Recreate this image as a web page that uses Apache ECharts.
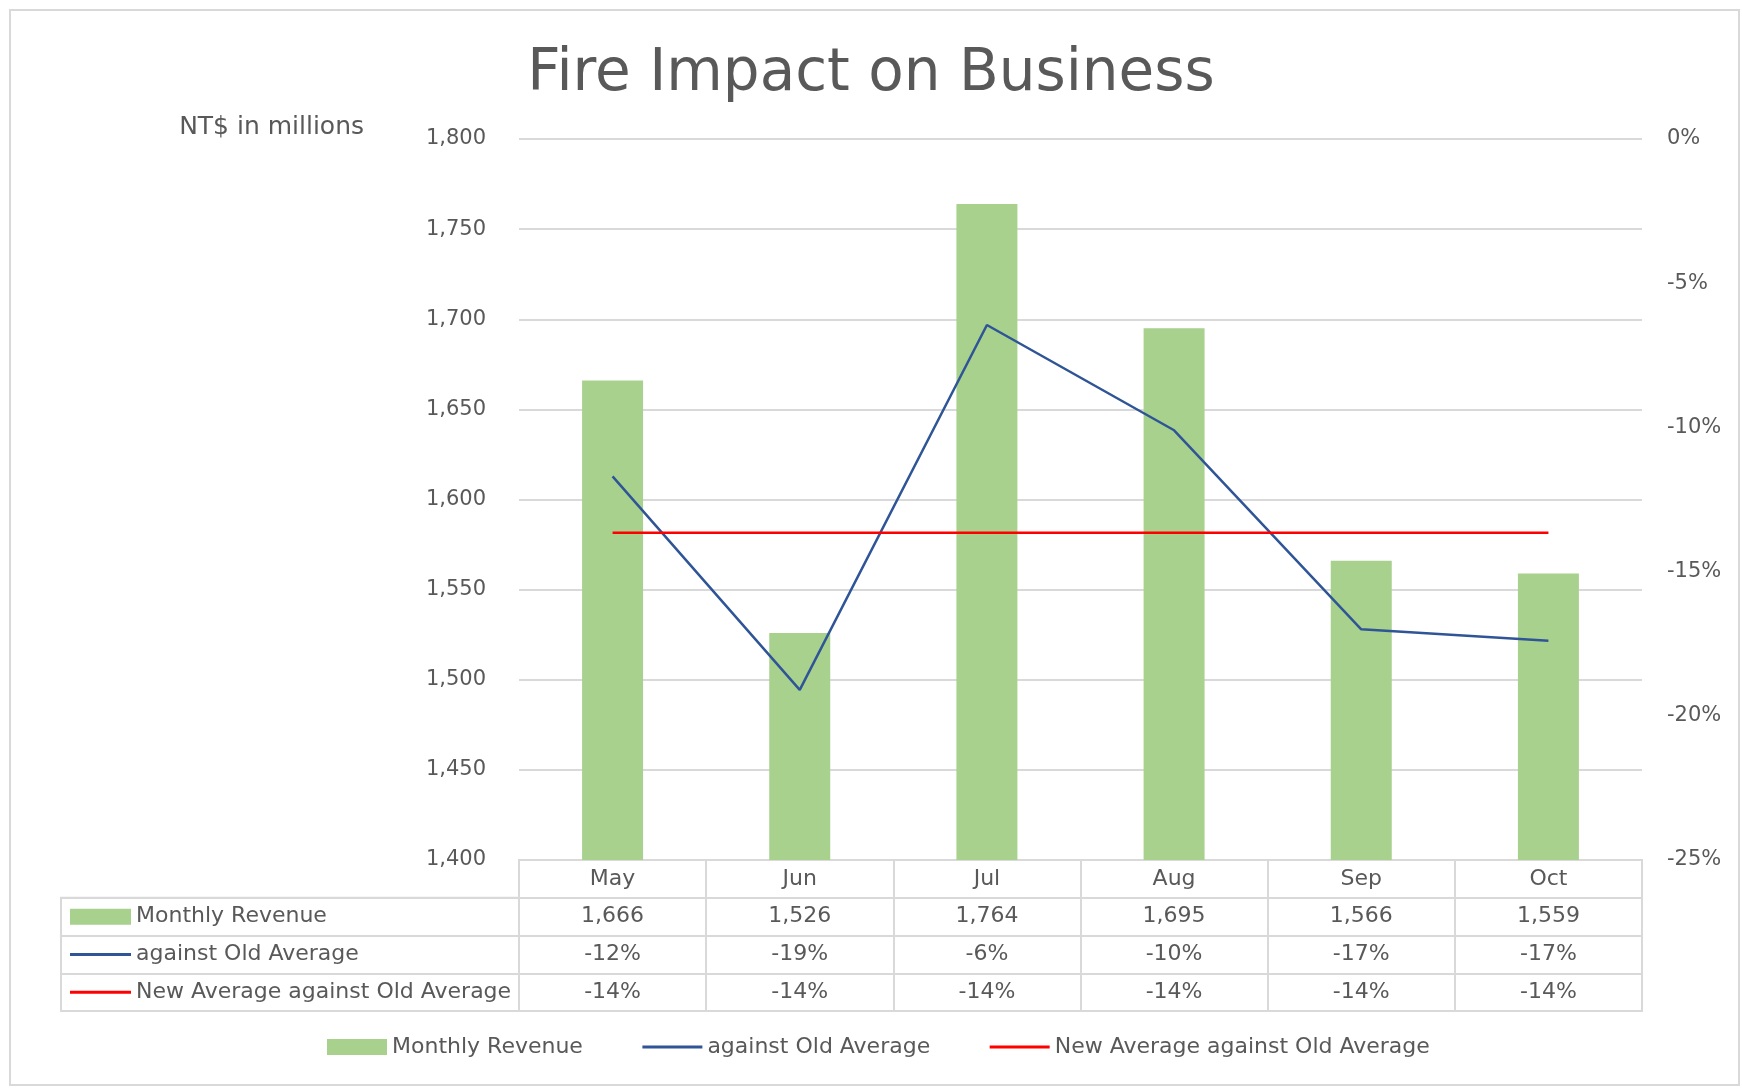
<!DOCTYPE html>
<html><head><meta charset="utf-8">
<script src="https://cdn.jsdelivr.net/npm/echarts@6/dist/echarts.min.js"></script>
<style>html,body{margin:0;padding:0;background:#fff}#c{width:1742px;height:1088px}</style>
</head><body><div id="c"></div>
<script>
// ---- data ----
const months = ['May', 'Jun', 'Jul', 'Aug', 'Sep', 'Oct'];
const monthlyRevenue = [1666, 1526, 1764, 1695, 1566, 1559];
const againstOldAverage = [-0.117, -0.191, -0.0645, -0.101, -0.170, -0.174];
const newAverageAgainstOld = [-0.1365, -0.1365, -0.1365, -0.1365, -0.1365, -0.1365];
const seriesNames = ['Monthly Revenue', 'against Old Average', 'New Average against Old Average'];
const leftAxisRange = [1400, 1800, 50];
const rightAxisRange = [-0.25, 0, 0.05];
const titleText = 'Fire Impact on Business';
const leftAxisName = 'NT$ in millions';

// ---- styles ----
const FONT = 'DejaVu Sans';
const TXT = '#595959';
const GRIDC = '#D9D9D9';
const GREEN = '#A9D18E';
const BLUE = '#2F5597';
const RED = '#FF0000';
const CLEAR = 'rgba(0,0,0,0)';

const fmtNum = v => Math.round(v).toLocaleString('en-US');
const fmtPct = v => Math.round(v * 100) + '%';

// table cells built from the arrays
const cells = [];
months.forEach((m, i) => {
  cells.push({ name: m, value: [i, 0] });
  cells.push({ name: fmtNum(monthlyRevenue[i]), value: [i, 1] });
  cells.push({ name: fmtPct(againstOldAverage[i]), value: [i, 2] });
  cells.push({ name: fmtPct(newAverageAgainstOld[i]), value: [i, 3] });
});

const chart = echarts.init(document.getElementById('c'), null, { renderer: 'canvas' });
chart.setOption({
  backgroundColor: '#fff',
  textStyle: { fontFamily: FONT },
  animation: false,
  title: {
    text: titleText, left: 'center', top: 41,
    textStyle: { fontFamily: FONT, fontSize: 58, fontWeight: 'normal', color: TXT }
  },
  graphic: [{
    type: 'rect', silent: true, z: -1,
    shape: { x: 10, y: 10, width: 1729, height: 1075 },
    style: { fill: 'none', stroke: GRIDC, lineWidth: 2 }
  }],
  legend: {
    data: [
      { name: seriesNames[0], icon: 'rect' },
      { name: seriesNames[1], itemStyle: { color: CLEAR, borderColor: CLEAR, borderWidth: 0 }, lineStyle: { width: 3 } },
      { name: seriesNames[2], itemStyle: { color: CLEAR, borderColor: CLEAR, borderWidth: 0 }, lineStyle: { width: 3 } }
    ],
    left: 322, top: 1031,
    itemWidth: 60, itemHeight: 16, itemGap: 58,
    textStyle: { fontFamily: FONT, fontSize: 22, color: TXT },
    selectedMode: false
  },
  grid: [
    { left: 519, right: 100, top: 139, bottom: 228 },
    { left: 519, right: 100, top: 860, bottom: 77, show: true, borderColor: GRIDC, borderWidth: 2 },
    { left: 61, width: 458, top: 897.75, bottom: 77, show: true, borderColor: GRIDC, borderWidth: 2 }
  ],
  xAxis: [
    { gridIndex: 0, type: 'category', data: months, axisLabel: { show: false }, axisTick: { show: false }, axisLine: { show: false } },
    { gridIndex: 1, type: 'category', data: months, axisLabel: { show: false }, axisTick: { show: false }, axisLine: { show: false },
      splitLine: { show: true, lineStyle: { color: GRIDC, width: 2 } } },
    { gridIndex: 2, type: 'value', min: 0, max: 1, show: false }
  ],
  yAxis: [
    { gridIndex: 0, type: 'value', min: leftAxisRange[0], max: leftAxisRange[1], interval: leftAxisRange[2],
      name: leftAxisName, nameLocation: 'end', nameGap: 12,
      nameTextStyle: { fontFamily: FONT, fontSize: 25, color: TXT, align: 'right', verticalAlign: 'middle', padding: [0, 155, 0, 0] },
      axisLine: { show: false }, axisTick: { show: false },
      axisLabel: { fontFamily: FONT, fontSize: 21, color: TXT, margin: 33, formatter: v => fmtNum(v) },
      splitLine: { lineStyle: { color: GRIDC, width: 2 } } },
    { gridIndex: 0, type: 'value', position: 'right', min: rightAxisRange[0], max: rightAxisRange[1], interval: rightAxisRange[2],
      axisLine: { show: false }, axisTick: { show: false }, splitLine: { show: false },
      axisLabel: { fontFamily: FONT, fontSize: 21, color: TXT, margin: 25, formatter: v => fmtPct(v) } },
    { gridIndex: 1, type: 'category', data: ['h', 'r', 'o', 'n'], inverse: true,
      axisLabel: { show: false }, axisTick: { show: false }, axisLine: { show: false },
      splitLine: { show: true, lineStyle: { color: GRIDC, width: 2 } } },
    { gridIndex: 2, type: 'category', data: seriesNames, inverse: true,
      axisTick: { show: false }, axisLine: { show: false },
      splitLine: { show: true, lineStyle: { color: GRIDC, width: 2 } },
      axisLabel: {
        inside: true, margin: 9,
        formatter: (v, i) => ['{bar|}', '{blue|}', '{red|}'][i] + '{t|' + v + '}',
        rich: {
          bar: { width: 61, height: 16, backgroundColor: GREEN },
          blue: { width: 61, height: 3, backgroundColor: BLUE },
          red: { width: 61, height: 3, backgroundColor: RED },
          t: { fontFamily: FONT, fontSize: 22, color: TXT, padding: [0, 0, 0, 5] }
        }
      } }
  ],
  series: [
    { name: seriesNames[0], type: 'bar', xAxisIndex: 0, yAxisIndex: 0, data: monthlyRevenue,
      barWidth: 61, itemStyle: { color: GREEN }, silent: true },
    { name: seriesNames[1], type: 'line', xAxisIndex: 0, yAxisIndex: 1, data: againstOldAverage,
      symbol: 'none', lineStyle: { color: BLUE, width: 2.5 }, itemStyle: { color: BLUE }, silent: true },
    { name: seriesNames[2], type: 'line', xAxisIndex: 0, yAxisIndex: 1, data: newAverageAgainstOld,
      symbol: 'none', lineStyle: { color: RED, width: 2.5 }, itemStyle: { color: RED }, silent: true },
    { type: 'scatter', xAxisIndex: 1, yAxisIndex: 2, data: cells, symbolSize: 1,
      itemStyle: { color: CLEAR, opacity: 1 }, silent: true,
      label: { show: true, position: 'inside', formatter: '{b}', fontFamily: FONT, fontSize: 22, color: TXT, opacity: 1 } }
  ]
});
</script></body></html>
